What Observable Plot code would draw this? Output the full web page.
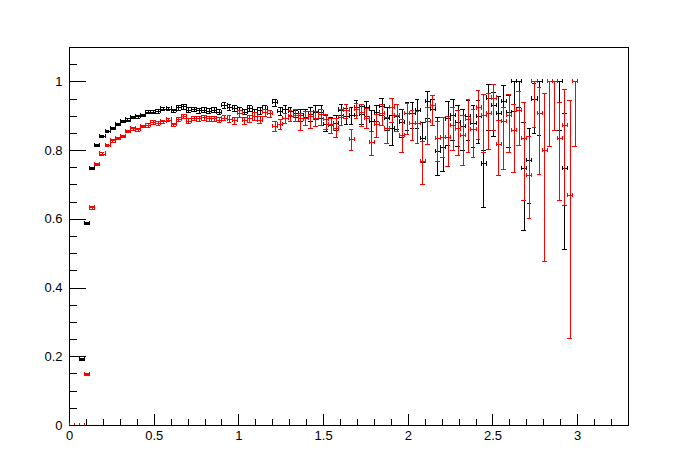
<!DOCTYPE html>
<html><head><meta charset="utf-8">
<script src="https://cdn.jsdelivr.net/npm/d3@7"></script>
<script src="https://cdn.jsdelivr.net/npm/@observablehq/plot@0.6"></script>
<style>
body{margin:0;background:#fff}
#chart svg{display:block;shape-rendering:crispEdges}
</style>
</head><body><div id="chart"></div>
<script>
// ---- data ----
const binWidth = 0.03;
const binCenters = d3.range(100).map(i => +(binWidth * (i + 0.5)).toFixed(3));

const xMajor = [0, 0.5, 1, 1.5, 2, 2.5, 3];
const xMinor = d3.range(0, 3.31, 0.1).map(v => +v.toFixed(2));
const yMajor = [0, 0.2, 0.4, 0.6, 0.8, 1];
const yMinor = d3.range(0, 1.101, 0.05).map(v => +v.toFixed(2));

const blackEff = [0,0,0.192,0.589,0.749,0.816,0.841,0.855,0.865,0.875,
 0.884,0.889,0.896,0.898,0.902,0.912,0.912,0.914,0.921,0.921,
 0.916,0.924,0.927,0.918,0.920,0.916,0.918,0.915,0.918,0.912,
 0.931,0.925,0.923,0.916,0.912,0.923,0.910,0.916,0.921,0.907,
 0.939,0.914,0.919,0.914,0.907,0.902,0.897,0.905,0.910,0.912,
 0.877,0.873,0.880,0.918,0.900,0.902,0.924,0.905,0.924,0.884,
 0.910,0.929,0.894,0.863,0.900,0.882,0.907,0.907,0.916,0.834,
 0.942,0.919,0.797,0.810,0.892,0.902,0.882,0.870,0.900,0.880,
 0.900,0.761,0.953,0.930,0.909,0.942,0.910,1.000,1.000,0.749,
 0.772,0.950,1.000,null,null,null,1.000,0.749,null,null];
const blackLo = [0,0,0.003,0.003,0.003,0.003,0.003,0.003,0.003,0.003,
 0.003,0.003,0.003,0.004,0.004,0.005,0.005,0.005,0.005,0.005,
 0.005,0.006,0.006,0.006,0.006,0.007,0.007,0.007,0.007,0.007,
 0.008,0.008,0.008,0.008,0.008,0.008,0.011,0.011,0.011,0.011,
 0.012,0.012,0.012,0.012,0.012,0.018,0.024,0.020,0.020,0.020,
 0.020,0.022,0.022,0.017,0.025,0.027,0.023,0.028,0.026,0.029,
 0.025,0.027,0.035,0.048,0.040,0.044,0.048,0.044,0.053,0.068,
 0.050,0.045,0.070,0.072,0.078,0.072,0.070,0.070,0.070,0.070,
 0.080,0.128,0.095,0.090,0.090,0.196,0.100,0.085,0.076,0.182,
 0.125,0.100,0.156,0,0,0,0.142,0.238,0,0];
const blackHi = [0,0,0.003,0.003,0.003,0.003,0.003,0.003,0.003,0.003,
 0.003,0.003,0.003,0.004,0.004,0.005,0.005,0.005,0.005,0.005,
 0.005,0.006,0.006,0.006,0.006,0.007,0.007,0.007,0.007,0.007,
 0.008,0.008,0.008,0.008,0.008,0.008,0.010,0.010,0.010,0.010,
 0.011,0.011,0.011,0.011,0.011,0.018,0.024,0.020,0.020,0.020,
 0.024,0.022,0.022,0.017,0.022,0.022,0.023,0.022,0.020,0.032,
 0.020,0.023,0.030,0.039,0.035,0.039,0.032,0.032,0.034,0.048,
 0.030,0.031,0.100,0.086,0.050,0.047,0.050,0.050,0.045,0.050,
 0.045,0.040,0.039,0.040,0.048,0.048,0.050,0,0,0.134,
 0.093,0.045,0,0,0,0,0,0.160,0,0];

const redEff = [0,0,0,0.148,0.633,0.759,0.790,0.814,0.828,0.834,
 0.840,0.855,0.863,0.861,0.870,0.873,0.882,0.879,0.884,0.889,
 0.875,0.890,0.899,0.886,0.894,0.892,0.896,0.892,0.892,0.889,
 0.894,0.891,0.887,0.907,0.887,0.892,0.900,0.889,0.910,0.907,
 0.871,0.875,0.894,0.900,0.903,0.892,0.893,0.900,0.893,0.905,
 0.890,0.875,0.863,0.897,0.918,0.832,0.921,0.910,0.894,0.823,
 0.875,0.907,0.863,0.926,0.903,0.843,0.907,0.879,0.880,0.767,
 0.884,0.932,0.835,0.838,0.838,0.874,0.863,0.843,0.890,0.861,
 0.924,0.903,0.909,0.953,0.819,0.884,0.903,0.858,0.916,0.834,
 0.727,1.000,0.909,0.800,1.000,1.000,0.834,0.874,0.669,1.000];
const redLo = [0,0,0,0.003,0.003,0.003,0.003,0.003,0.003,0.003,
 0.003,0.003,0.004,0.004,0.004,0.005,0.005,0.005,0.005,0.005,
 0.005,0.006,0.006,0.006,0.006,0.007,0.007,0.007,0.007,0.007,
 0.007,0.010,0.010,0.010,0.010,0.011,0.011,0.011,0.011,0.011,
 0.015,0.015,0.015,0.016,0.017,0.034,0.020,0.037,0.022,0.033,
 0.029,0.026,0.024,0.024,0.026,0.032,0.027,0.040,0.031,0.037,
 0.036,0.034,0.041,0.044,0.046,0.050,0.060,0.050,0.060,0.067,
 0.065,0.058,0.068,0.058,0.085,0.075,0.076,0.085,0.097,0.080,
 0.092,0.110,0.107,0.095,0.092,0.138,0.110,0.121,0.100,0.179,
 0.126,0.134,0.180,0.323,0.189,0.142,0.179,0.233,0.416,0.189];
const redHi = [0,0,0,0.003,0.003,0.003,0.003,0.003,0.003,0.003,
 0.003,0.003,0.004,0.004,0.004,0.005,0.005,0.005,0.005,0.005,
 0.005,0.006,0.006,0.006,0.006,0.007,0.007,0.007,0.007,0.007,
 0.007,0.010,0.010,0.010,0.010,0.011,0.011,0.011,0.011,0.011,
 0.015,0.015,0.015,0.016,0.017,0.015,0.020,0.014,0.020,0.016,
 0.015,0.017,0.029,0.024,0.017,0.029,0.017,0.025,0.029,0.033,
 0.029,0.026,0.034,0.026,0.032,0.048,0.030,0.037,0.035,0.060,
 0.042,0.029,0.051,0.058,0.061,0.051,0.053,0.058,0.058,0.058,
 0.050,0.061,0.058,0.038,0.068,0.042,0.061,0.075,0.055,0.105,
 0.113,0,0.075,0.165,0,0,0.105,0.105,0.276,0];

// ---- build rows ----
function rows(eff, lo, hi) {
  return binCenters.map((x, i) => ({x, y: eff[i], lo: lo[i], hi: hi[i]}))
                   .filter(d => d.y != null);
}
const blackRows = rows(blackEff, blackLo, blackHi);
const redRows = rows(redEff, redLo, redHi);

const halfW = binWidth / 2;   // horizontal bar spans the bin
const capW = 0.014;           // half width of caps on vertical bars
const capH = 0.006;           // half height of caps at ends of horizontal bars

function errMarks(data, color) {
  return [
    Plot.ruleY(data, {y: "y", x1: d => d.x - halfW, x2: d => d.x + halfW, stroke: color}),
    Plot.ruleX(data, {x: d => d.x - halfW, y1: d => d.y - capH, y2: d => d.y + capH, stroke: color}),
    Plot.ruleX(data, {x: d => d.x + halfW, y1: d => d.y - capH, y2: d => d.y + capH, stroke: color}),
    Plot.ruleX(data.filter(d => d.lo + d.hi > 0), {x: "x", y1: d => d.y - d.lo, y2: d => d.y + d.hi, stroke: color}),
    Plot.ruleY(data.filter(d => d.lo > 0), {y: d => d.y - d.lo, x1: d => d.x - capW, x2: d => d.x + capW, stroke: color}),
    Plot.ruleY(data.filter(d => d.hi > 0), {y: d => d.y + d.hi, x1: d => d.x - capW, x2: d => d.x + capW, stroke: color})
  ];
}

const W = 696, H = 472, mL = 69, mR = 68, mT = 47, mB = 47;
const frameW = W - mL - mR, frameH = H - mT - mB;

const chart = Plot.plot({
  width: W, height: H,
  marginLeft: mL, marginRight: mR, marginTop: mT, marginBottom: mB,
  style: {fontFamily: "'Liberation Sans', Arial, Helvetica, sans-serif", fontSize: "13px", background: "#fff", color: "#000"},
  x: {domain: [0, 3.3], label: null},
  y: {domain: [0, 1.1], label: null},
  marks: [
    Plot.frame({stroke: "#000"}),
    // inward ticks
    Plot.tickX(xMinor, {x: d => d, insetTop: frameH - 6, stroke: "#000"}),
    Plot.tickX(xMajor, {x: d => d, insetTop: frameH - 11, stroke: "#000"}),
    Plot.tickY(yMinor, {y: d => d, insetRight: frameW - 8, stroke: "#000"}),
    Plot.tickY(yMajor, {y: d => d, insetRight: frameW - 17, stroke: "#000"}),
    Plot.axisX({ticks: xMajor, tickSize: 0, tickPadding: 5, tickFormat: d => String(d), fontSize: 13, label: null}),
    Plot.axisY({ticks: yMajor, tickSize: 0, tickPadding: 7, tickFormat: d => String(d), fontSize: 13, label: null}),
    ...errMarks(blackRows, "#000"),
    ...errMarks(redRows, "#ff0000")
  ],
  clip: true
});
document.getElementById("chart").appendChild(chart);
</script>
</body></html>
